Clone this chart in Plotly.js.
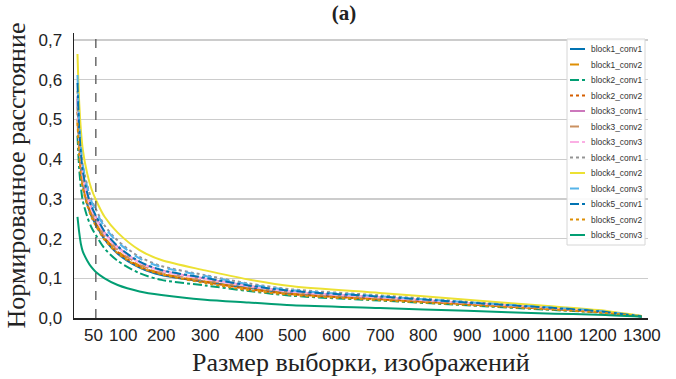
<!DOCTYPE html>
<html>
<head>
<meta charset="utf-8">
<script src="https://cdn.plot.ly/plotly-3.0.1.min.js"></script>
<style>html,body{margin:0;padding:0;background:#fff;}#chart{width:676px;height:379px;}</style>
</head>
<body>
<div id="chart"></div>
<script>
// sample sizes (number of images)
const sampleSizes = [8, 12, 16, 20, 30, 40, 50, 70, 100, 150, 200, 300, 400, 500, 700, 900, 1100, 1200, 1300];

const seriesNames = ["block1_conv1","block1_conv2","block2_conv1","block2_conv2","block3_conv1","block3_conv2","block3_conv3","block4_conv1","block4_conv2","block4_conv3","block5_conv1","block5_conv2","block5_conv3"];

const block1_conv1 = [0.552,0.440,0.379,0.340,0.288,0.257,0.235,0.198,0.162,0.127,0.108,0.091,0.076,0.062,0.049,0.036,0.023,0.016,0.004];
const block1_conv2 = [0.499,0.417,0.368,0.336,0.294,0.262,0.240,0.203,0.168,0.132,0.112,0.092,0.074,0.061,0.048,0.035,0.022,0.015,0.004];
const block2_conv1 = [0.459,0.375,0.327,0.296,0.256,0.228,0.209,0.175,0.144,0.113,0.096,0.082,0.068,0.056,0.044,0.032,0.020,0.014,0.004];
const block2_conv2 = [0.519,0.426,0.372,0.338,0.292,0.260,0.238,0.201,0.166,0.130,0.111,0.091,0.073,0.060,0.047,0.035,0.022,0.015,0.004];
const block3_conv1 = [0.559,0.457,0.400,0.362,0.312,0.278,0.255,0.215,0.179,0.140,0.120,0.099,0.081,0.066,0.052,0.038,0.024,0.017,0.004];
const block3_conv2 = [0.532,0.436,0.382,0.346,0.299,0.267,0.244,0.207,0.172,0.135,0.115,0.095,0.078,0.064,0.050,0.037,0.023,0.016,0.004];
const block3_conv3 = [0.552,0.450,0.393,0.356,0.307,0.273,0.250,0.212,0.176,0.139,0.118,0.098,0.080,0.066,0.052,0.038,0.024,0.016,0.004];
const block4_conv1 = [0.572,0.477,0.421,0.385,0.336,0.299,0.274,0.233,0.195,0.154,0.131,0.108,0.087,0.072,0.057,0.041,0.026,0.018,0.005];
const block4_conv2 = [0.665,0.540,0.470,0.425,0.365,0.325,0.298,0.255,0.215,0.171,0.146,0.120,0.097,0.080,0.063,0.046,0.029,0.020,0.005];
const block4_conv3 = [0.612,0.494,0.429,0.387,0.331,0.294,0.270,0.229,0.191,0.150,0.128,0.106,0.085,0.070,0.055,0.040,0.026,0.018,0.004];
const block5_conv1 = [0.592,0.475,0.412,0.371,0.316,0.281,0.258,0.218,0.181,0.142,0.121,0.101,0.082,0.068,0.054,0.039,0.025,0.017,0.004];
const block5_conv2 = [0.492,0.408,0.359,0.327,0.285,0.254,0.232,0.197,0.163,0.128,0.110,0.088,0.070,0.058,0.045,0.033,0.021,0.014,0.004];
const block5_conv3 = [0.255,0.215,0.185,0.168,0.145,0.128,0.116,0.100,0.083,0.067,0.058,0.046,0.039,0.032,0.025,0.018,0.011,0.008,0.003];

const seriesValues = [block1_conv1,block1_conv2,block2_conv1,block2_conv2,block3_conv1,block3_conv2,block3_conv3,block4_conv1,block4_conv2,block4_conv3,block5_conv1,block5_conv2,block5_conv3];

const xTickVals = [50,100,200,300,400,500,600,700,800,900,1000,1100,1200,1300];
const xTickText = ["50","100","200","300","400","500","600","700","800","900","1000","1100","1200","1300"];
const yTickVals = [0,0.1,0.2,0.3,0.4,0.5,0.6,0.7];
const yTickText = ["0,0","0,1","0,2","0,3","0,4","0,5","0,6","0,7"];
const markerX = 50;

const palette = ["#0173b2","#de8f05","#029e73","#d55e00","#cc78bc","#ca9161","#fbafe4","#949494","#ece133","#56b4e9"];
const dashes = ["solid","dash","dashdot","dot"];

const traces = seriesNames.map((name, i) => ({
  type: "scatter",
  mode: "lines",
  name: name,
  x: sampleSizes,
  y: seriesValues[i],
  line: {color: palette[i % palette.length], width: 2, dash: dashes[i % 4], shape: "spline", smoothing: 0.8}
}));

const M = {l: 74, r: 28, t: 33, b: 61};
const W = 676, H = 379;
const plotW = W - M.l - M.r, plotH = H - M.t - M.b;
const px = v => (v - M.l) / plotW;
const py = v => 1 - (v - M.t) / plotH;

const sansFam = "Liberation Sans, Arial, sans-serif";
const tickFont = {family: sansFam, size: 17, color: "#222"};
const serif = "Liberation Serif, DejaVu Serif, Times New Roman, serif";

const shapes = [{
  type: "line", xref: "x", yref: "paper", x0: markerX, x1: markerX, y0: 0, y1: 1,
  line: {color: "#555", width: 1.3, dash: "dash"}
}, {
  type: "rect", xref: "paper", yref: "paper", x0: px(567), x1: px(645), y0: py(39), y1: py(245),
  line: {color: "#d6d6d6", width: 1}, fillcolor: "rgba(255,255,255,0.9)", layer: "above"
}];
const annotations = [];
seriesNames.forEach((name, i) => {
  const yy = 49 + 15.5 * i;
  shapes.push({type: "line", xref: "paper", yref: "paper", x0: px(570), x1: px(585), y0: py(yy), y1: py(yy),
    line: {color: palette[i % palette.length], width: 2, dash: dashes[i % 4]}, layer: "above"});
  annotations.push({xref: "paper", yref: "paper", x: px(589), y: py(yy), xanchor: "left", yanchor: "middle",
    text: name, showarrow: false, font: {family: sansFam, size: 8.4, color: "#333"}});
});
// x tick labels (drawn at the axis tick values; the crowded first two nudged apart)
xTickVals.forEach((v, i) => {
  annotations.push({xref: "x", yref: "paper", x: v, y: 0, yanchor: "top", xanchor: "center",
    xshift: i === 0 ? -2 : (i === 1 ? 5 : 0), yshift: -6,
    text: xTickText[i], showarrow: false, font: tickFont});
});

const layout = {
  width: W, height: H,
  margin: M,
  paper_bgcolor: "#fff", plot_bgcolor: "#fff",
  showlegend: false,
  title: {text: "<b>(a)</b>", font: {family: serif, size: 21, color: "#222"}, x: 344 / W, xref: "container", xanchor: "center", y: 1 - 13 / H, yref: "container", yanchor: "middle"},
  xaxis: {
    range: [0, 1314], tickvals: xTickVals, showticklabels: false,
    showgrid: false, zeroline: false,
    showline: true, linecolor: "#222", linewidth: 1.5, ticks: ""
  },
  yaxis: {
    range: [0, 0.718], tickvals: yTickVals, ticktext: yTickText,
    tickfont: tickFont, showgrid: true, gridcolor: "#cccccc", gridwidth: 1.3, zeroline: false,
    showline: true, linecolor: "#222", linewidth: 1.5, ticks: "", ticklabelstandoff: 7,
    title: {text: "Нормированное расстояние", font: {family: serif, size: 26, color: "#222"}, standoff: 5}
  },
  shapes: shapes,
  annotations: annotations.concat([{
    xref: "paper", yref: "paper", x: 0.5, y: 0, yanchor: "top", xanchor: "center", yshift: -28,
    text: "Размер выборки, изображений", showarrow: false, font: {family: serif, size: 26, color: "#222"}
  }])
};

Plotly.newPlot("chart", traces, layout, {displayModeBar: false, staticPlot: true});
</script>
</body>
</html>
